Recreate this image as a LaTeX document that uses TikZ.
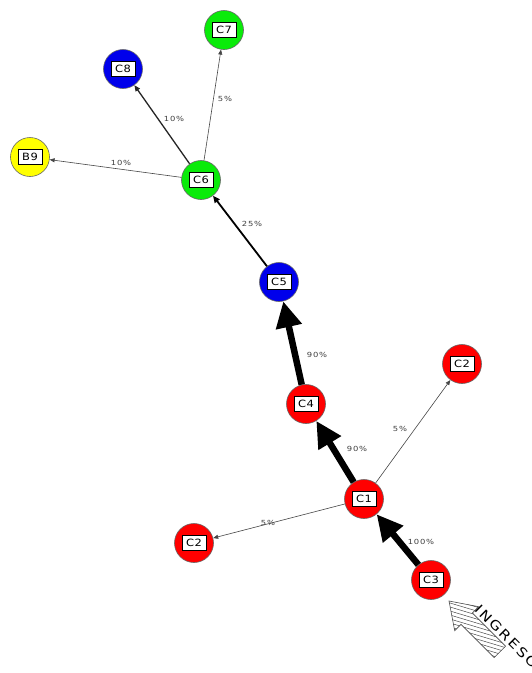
\documentclass[tikz,border=0pt]{standalone}
\usepackage{fontspec}
\setmainfont{DejaVu Sans}
\newfontfamily\nodefont[FakeStretch=1.15,LetterSpace=6]{DejaVu Sans}
\newfontfamily\labfont[FakeStretch=1.2,LetterSpace=10]{DejaVu Sans}
\newfontfamily\ingfont[FakeStretch=1.2,LetterSpace=15]{DejaVu Sans}
\usetikzlibrary{arrows.meta}
\definecolor{cred}{RGB}{255,0,0}
\definecolor{cblue}{RGB}{0,0,235}
\definecolor{cgreen}{RGB}{10,235,10}
\definecolor{cyel}{RGB}{255,255,0}
\definecolor{edgegray}{RGB}{70,70,70}
\tikzset{
  cnode/.style={circle, draw=black!60, line width=0.6pt, minimum size=39pt, inner sep=0pt, fill=#1,
    font=\nodefont\fontsize{10}{11}\selectfont,
    path picture={\draw[black, line width=0.5pt, fill=white]
      ([xshift=-12pt,yshift=-7.5pt]path picture bounding box.center) rectangle
      ([xshift=12pt,yshift=7.5pt]path picture bounding box.center);}},
  elab/.style={font=\labfont\fontsize{7}{8}\selectfont, text=black!75, inner sep=0pt},
  thickE/.style={line width=6.5pt, black, -{Triangle[length=26pt,width=25pt]}},
  medE/.style={line width=1.8pt, black, -{Triangle[length=7pt,width=6pt]}},
  semiE/.style={line width=1.3pt, black!85, -{Triangle[length=6pt,width=5pt]}},
  thinE/.style={line width=0.6pt, edgegray, -{Triangle[length=5pt,width=4pt]}},
}
\begin{document}
\begin{tikzpicture}[x=1pt,y=-1pt]
\useasboundingbox (0,0) rectangle (532,673);
\fill[white] (0,0) rectangle (532,673);
% nodes
\node[cnode=cgreen] (C7) at (224,30) {C7};
\node[cnode=cblue] (C8) at (123,69) {C8};
\node[cnode=cyel] (B9) at (30,157) {B9};
\node[cnode=cgreen] (C6) at (201,180) {C6};
\node[cnode=cblue] (C5) at (279,282) {C5};
\node[cnode=cred] (C4) at (306,404) {C4};
\node[cnode=cred] (C2r) at (462,364) {C2};
\node[cnode=cred] (C1) at (364,499) {C1};
\node[cnode=cred] (C2l) at (194,543) {C2};
\node[cnode=cred] (C3) at (431,580) {C3};
% edges
\draw[thickE] (C3) -- (C1);
\draw[thickE] (C1) -- (C4);
\draw[thickE] (C4) -- (C5);
\draw[thinE] (C1) -- (C2r);
\draw[thinE] (C1) -- (C2l);
\draw[medE] (C5) -- (C6);
\draw[semiE] (C6) -- (C8);
\draw[thinE] (C6) -- (B9);
\draw[thinE] (C6) -- (C7);
% edge labels
\node[elab] (l1) at (421,542) {100\%};
\node[elab] (l2) at (357,449) {90\%};
\node[elab] (l3) at (317,355) {90\%};
\node[elab] (l4) at (400,429) {5\%};
\node[elab] (l5) at (268,523) {5\%};
\node[elab] (l6) at (252,224) {25\%};
\node[elab] (l7) at (174,119) {10\%};
\node[elab] (l8) at (121,163) {10\%};
\node[elab] (l9) at (225,99) {5\%};
% INGRESO arrow
\begin{scope}
\clip (449,601) -- (478.7,606.7) -- (472.4,613.0) -- (505.6,646.2) -- (494.2,657.6) -- (461.0,624.4) -- (454.7,630.7) -- cycle;
\foreach \c in {572,576,...,664} {\draw[black!70, line width=0.5pt] (440,\c) -- (520,\c+24);}
\end{scope}
\draw[black!70, line width=0.6pt, line join=miter] (449,601) -- (478.7,606.7) -- (472.4,613.0) -- (505.6,646.2) -- (494.2,657.6) -- (461.0,624.4) -- (454.7,630.7) -- cycle;
\node[anchor=west, rotate=-45, inner sep=0pt, font=\ingfont\fontsize{13}{14}\selectfont] (ing) at (477,607) {INGRESO};
\end{tikzpicture}
\end{document}
